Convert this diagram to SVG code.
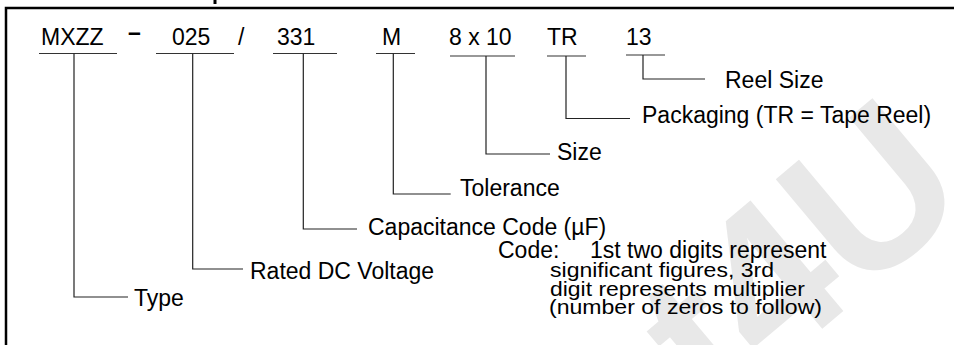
<svg xmlns="http://www.w3.org/2000/svg" width="954" height="345" viewBox="0 0 954 345">
<style>
text { font-family: "Liberation Sans", Arial, sans-serif; fill: #000; }
.code { font-size: 23px; }
.lbl { font-size: 23px; }
.note1 { font-size: 23px; }
.note2 { font-size: 20px; }
.ul { stroke: #333; stroke-width: 1.2; fill: none; }
.conn { fill: none; stroke: #222; stroke-width: 1.2; }
.wm { font-size: 210px; font-weight: bold; fill: #e8e8e8; }
</style>
<rect width="954" height="345" fill="#fff"/>
<text class="wm" transform="rotate(-40 716 418)" x="716" y="418">t4U</text>
<path d="M6 345 V8 H954" fill="none" stroke="#000" stroke-width="2.5"/>
<rect x="213.5" y="0" width="3" height="4" fill="#000"/>

<g id="code-type"><text class="code" x="41" y="45">MXZZ</text><line class="ul" x1="39" y1="53.5" x2="117" y2="53.5"/></g>
<g id="sep-dash"><text class="code" x="128" y="40" font-weight="bold">–</text></g>
<g id="code-voltage"><text class="code" x="172" y="45">025</text><line class="ul" x1="156" y1="53.5" x2="234" y2="53.5"/></g>
<g id="sep-slash"><text class="code" x="238" y="45">/</text></g>
<g id="code-cap"><text class="code" x="277" y="45">331</text><line class="ul" x1="273" y1="53.5" x2="337" y2="53.5"/></g>
<g id="code-tol"><text class="code" x="382" y="45">M</text><line class="ul" x1="376" y1="53.5" x2="415" y2="53.5"/></g>
<g id="code-size"><text class="code" x="449" y="45">8 x 10</text><line class="ul" x1="450" y1="56" x2="515" y2="56"/></g>
<g id="code-pack"><text class="code" x="547" y="45">TR</text><line class="ul" x1="547" y1="56" x2="586" y2="56"/></g>
<g id="code-reel"><text class="code" x="626" y="45">13</text><line class="ul" x1="626" y1="55" x2="665" y2="55"/></g>

<g id="connectors">
<path class="conn" d="M74 53.5 V297 H128"/>
<path class="conn" d="M192.7 53.5 V269 H243"/>
<path class="conn" d="M303.3 53.5 V229 H357"/>
<path class="conn" d="M393.3 53.5 V194 H450.7"/>
<path class="conn" d="M486 56 V154 H550"/>
<path class="conn" d="M566 56 V118.5 H630"/>
<path class="conn" d="M643 55 V79 H705"/>
</g>

<g id="label-type"><text class="lbl" x="134" y="306">Type</text></g>
<g id="label-voltage"><text class="lbl" x="250" y="279">Rated DC Voltage</text></g>
<g id="label-cap"><text class="lbl" x="368" y="235">Capacitance Code (µF)</text></g>
<g id="label-tol"><text class="lbl" x="460" y="196">Tolerance</text></g>
<g id="label-size"><text class="lbl" x="557" y="160">Size</text></g>
<g id="label-pack"><text class="lbl" x="642" y="123">Packaging (TR = Tape Reel)</text></g>
<g id="label-reel"><text class="lbl" x="725" y="88">Reel Size</text></g>

<g id="code-note">
<text class="note1" x="498" y="258">Code:</text>
<text class="note1" x="590" y="258">1st two digits represent</text>
<text class="note2" x="550" y="277" textLength="224" lengthAdjust="spacingAndGlyphs">significant figures, 3rd</text>
<text class="note2" x="550" y="295.5" textLength="255" lengthAdjust="spacingAndGlyphs">digit represents multiplier</text>
<text class="note2" x="549" y="314" textLength="273" lengthAdjust="spacingAndGlyphs">(number of zeros to follow)</text>
</g>
</svg>
